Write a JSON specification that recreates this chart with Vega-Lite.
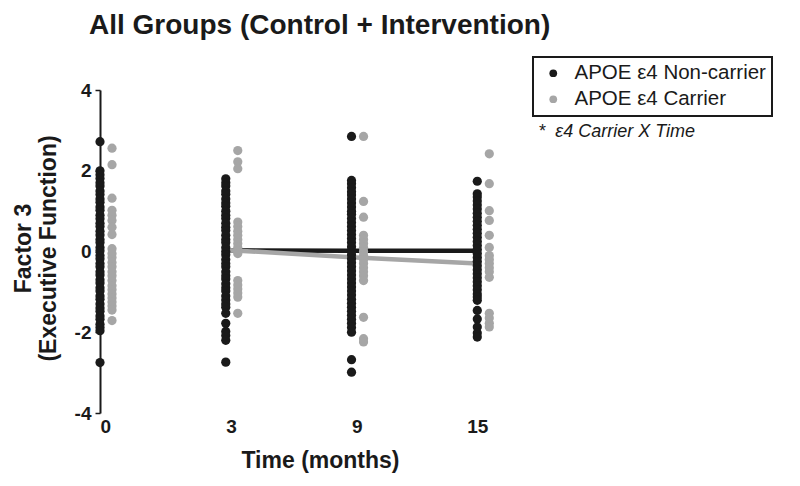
{
  "$schema": "https://vega.github.io/schema/vega-lite/v6.json",
  "width": 440,
  "height": 323,
  "autosize": {"type": "none"},
  "padding": {"left": 100, "top": 90, "right": 260, "bottom": 73},
  "background": "white",
  "title": {
    "text": "All Groups (Control + Intervention)",
    "anchor": "start",
    "frame": "group",
    "font": "Liberation Sans",
    "fontSize": 28,
    "fontWeight": "bold",
    "color": "#1a1a1a",
    "baseline": "alphabetic",
    "dx": -11,
    "dy": 6,
    "offset": 0
  },
  "config": {"view": {"stroke": null}, "font": "Liberation Sans"},
  "datasets": {
    "pts": [
      {"t":"0","g":"N","v":2.72},{"t":"0","g":"N","v":2.0},{"t":"0","g":"N","v":1.9},{"t":"0","g":"N","v":1.81},{"t":"0","g":"N","v":1.7},{"t":"0","g":"N","v":1.62},{"t":"0","g":"N","v":1.5},{"t":"0","g":"N","v":1.41},{"t":"0","g":"N","v":1.3},{"t":"0","g":"N","v":1.22},{"t":"0","g":"N","v":1.1},{"t":"0","g":"N","v":1.02},{"t":"0","g":"N","v":0.9},{"t":"0","g":"N","v":0.81},{"t":"0","g":"N","v":0.7},{"t":"0","g":"N","v":0.62},{"t":"0","g":"N","v":0.5},{"t":"0","g":"N","v":0.41},{"t":"0","g":"N","v":0.3},{"t":"0","g":"N","v":0.22},{"t":"0","g":"N","v":0.1},{"t":"0","g":"N","v":0.02},{"t":"0","g":"N","v":-0.1},{"t":"0","g":"N","v":-0.18},{"t":"0","g":"N","v":-0.3},{"t":"0","g":"N","v":-0.38},{"t":"0","g":"N","v":-0.5},{"t":"0","g":"N","v":-0.58},{"t":"0","g":"N","v":-0.7},{"t":"0","g":"N","v":-0.78},{"t":"0","g":"N","v":-0.9},{"t":"0","g":"N","v":-0.98},{"t":"0","g":"N","v":-1.1},{"t":"0","g":"N","v":-1.18},{"t":"0","g":"N","v":-1.3},{"t":"0","g":"N","v":-1.4},{"t":"0","g":"N","v":-1.48},{"t":"0","g":"N","v":-1.6},{"t":"0","g":"N","v":-1.68},{"t":"0","g":"N","v":-1.8},{"t":"0","g":"N","v":-1.88},{"t":"0","g":"N","v":-1.96},{"t":"0","g":"N","v":-2.75},
      {"t":"0","g":"C","v":2.56},{"t":"0","g":"C","v":2.15},{"t":"0","g":"C","v":1.32},{"t":"0","g":"C","v":1.02},{"t":"0","g":"C","v":0.9},{"t":"0","g":"C","v":0.77},{"t":"0","g":"C","v":0.6},{"t":"0","g":"C","v":0.42},{"t":"0","g":"C","v":0.07},{"t":"0","g":"C","v":-0.05},{"t":"0","g":"C","v":-0.15},{"t":"0","g":"C","v":-0.27},{"t":"0","g":"C","v":-0.38},{"t":"0","g":"C","v":-0.5},{"t":"0","g":"C","v":-0.6},{"t":"0","g":"C","v":-0.72},{"t":"0","g":"C","v":-0.85},{"t":"0","g":"C","v":-0.95},{"t":"0","g":"C","v":-1.05},{"t":"0","g":"C","v":-1.15},{"t":"0","g":"C","v":-1.25},{"t":"0","g":"C","v":-1.35},{"t":"0","g":"C","v":-1.45},{"t":"0","g":"C","v":-1.71},
      {"t":"3","g":"N","v":1.8},{"t":"3","g":"N","v":1.7},{"t":"3","g":"N","v":1.62},{"t":"3","g":"N","v":1.5},{"t":"3","g":"N","v":1.42},{"t":"3","g":"N","v":1.3},{"t":"3","g":"N","v":1.2},{"t":"3","g":"N","v":1.12},{"t":"3","g":"N","v":1.0},{"t":"3","g":"N","v":0.9},{"t":"3","g":"N","v":0.82},{"t":"3","g":"N","v":0.7},{"t":"3","g":"N","v":0.6},{"t":"3","g":"N","v":0.52},{"t":"3","g":"N","v":0.4},{"t":"3","g":"N","v":0.3},{"t":"3","g":"N","v":0.22},{"t":"3","g":"N","v":0.1},{"t":"3","g":"N","v":0.0},{"t":"3","g":"N","v":-0.08},{"t":"3","g":"N","v":-0.2},{"t":"3","g":"N","v":-0.3},{"t":"3","g":"N","v":-0.38},{"t":"3","g":"N","v":-0.5},{"t":"3","g":"N","v":-0.6},{"t":"3","g":"N","v":-0.68},{"t":"3","g":"N","v":-0.8},{"t":"3","g":"N","v":-0.9},{"t":"3","g":"N","v":-0.98},{"t":"3","g":"N","v":-1.1},{"t":"3","g":"N","v":-1.2},{"t":"3","g":"N","v":-1.3},{"t":"3","g":"N","v":-1.38},{"t":"3","g":"N","v":-1.53},{"t":"3","g":"N","v":-1.78},{"t":"3","g":"N","v":-1.98},{"t":"3","g":"N","v":-2.08},{"t":"3","g":"N","v":-2.2},{"t":"3","g":"N","v":-2.74},
      {"t":"3","g":"C","v":2.5},{"t":"3","g":"C","v":2.22},{"t":"3","g":"C","v":2.05},{"t":"3","g":"C","v":0.73},{"t":"3","g":"C","v":0.62},{"t":"3","g":"C","v":0.5},{"t":"3","g":"C","v":0.4},{"t":"3","g":"C","v":0.3},{"t":"3","g":"C","v":0.2},{"t":"3","g":"C","v":0.1},{"t":"3","g":"C","v":0.02},{"t":"3","g":"C","v":-0.05},{"t":"3","g":"C","v":-0.72},{"t":"3","g":"C","v":-0.83},{"t":"3","g":"C","v":-0.93},{"t":"3","g":"C","v":-1.03},{"t":"3","g":"C","v":-1.13},{"t":"3","g":"C","v":-1.53},
      {"t":"9","g":"N","v":2.85},{"t":"9","g":"N","v":1.76},{"t":"9","g":"N","v":1.68},{"t":"9","g":"N","v":1.58},{"t":"9","g":"N","v":1.48},{"t":"9","g":"N","v":1.4},{"t":"9","g":"N","v":1.3},{"t":"9","g":"N","v":1.2},{"t":"9","g":"N","v":1.1},{"t":"9","g":"N","v":1.0},{"t":"9","g":"N","v":0.92},{"t":"9","g":"N","v":0.82},{"t":"9","g":"N","v":0.72},{"t":"9","g":"N","v":0.62},{"t":"9","g":"N","v":0.52},{"t":"9","g":"N","v":0.42},{"t":"9","g":"N","v":0.32},{"t":"9","g":"N","v":0.22},{"t":"9","g":"N","v":0.12},{"t":"9","g":"N","v":0.02},{"t":"9","g":"N","v":-0.08},{"t":"9","g":"N","v":-0.18},{"t":"9","g":"N","v":-0.28},{"t":"9","g":"N","v":-0.38},{"t":"9","g":"N","v":-0.48},{"t":"9","g":"N","v":-0.58},{"t":"9","g":"N","v":-0.68},{"t":"9","g":"N","v":-0.78},{"t":"9","g":"N","v":-0.88},{"t":"9","g":"N","v":-0.98},{"t":"9","g":"N","v":-1.08},{"t":"9","g":"N","v":-1.18},{"t":"9","g":"N","v":-1.28},{"t":"9","g":"N","v":-1.38},{"t":"9","g":"N","v":-1.48},{"t":"9","g":"N","v":-1.58},{"t":"9","g":"N","v":-1.68},{"t":"9","g":"N","v":-1.78},{"t":"9","g":"N","v":-1.88},{"t":"9","g":"N","v":-2.0},{"t":"9","g":"N","v":-2.68},{"t":"9","g":"N","v":-2.99},
      {"t":"9","g":"C","v":2.85},{"t":"9","g":"C","v":1.24},{"t":"9","g":"C","v":0.85},{"t":"9","g":"C","v":0.4},{"t":"9","g":"C","v":0.3},{"t":"9","g":"C","v":0.2},{"t":"9","g":"C","v":0.1},{"t":"9","g":"C","v":0.0},{"t":"9","g":"C","v":-0.1},{"t":"9","g":"C","v":-0.2},{"t":"9","g":"C","v":-0.3},{"t":"9","g":"C","v":-0.4},{"t":"9","g":"C","v":-0.5},{"t":"9","g":"C","v":-0.6},{"t":"9","g":"C","v":-0.72},{"t":"9","g":"C","v":-1.63},{"t":"9","g":"C","v":-2.16},{"t":"9","g":"C","v":-2.24},
      {"t":"15","g":"N","v":1.74},{"t":"15","g":"N","v":1.43},{"t":"15","g":"N","v":1.35},{"t":"15","g":"N","v":1.25},{"t":"15","g":"N","v":1.15},{"t":"15","g":"N","v":1.05},{"t":"15","g":"N","v":0.95},{"t":"15","g":"N","v":0.85},{"t":"15","g":"N","v":0.75},{"t":"15","g":"N","v":0.65},{"t":"15","g":"N","v":0.55},{"t":"15","g":"N","v":0.45},{"t":"15","g":"N","v":0.35},{"t":"15","g":"N","v":0.25},{"t":"15","g":"N","v":0.15},{"t":"15","g":"N","v":0.05},{"t":"15","g":"N","v":-0.05},{"t":"15","g":"N","v":-0.15},{"t":"15","g":"N","v":-0.25},{"t":"15","g":"N","v":-0.35},{"t":"15","g":"N","v":-0.45},{"t":"15","g":"N","v":-0.55},{"t":"15","g":"N","v":-0.65},{"t":"15","g":"N","v":-0.75},{"t":"15","g":"N","v":-0.85},{"t":"15","g":"N","v":-0.95},{"t":"15","g":"N","v":-1.05},{"t":"15","g":"N","v":-1.13},{"t":"15","g":"N","v":-1.21},{"t":"15","g":"N","v":-1.46},{"t":"15","g":"N","v":-1.67},{"t":"15","g":"N","v":-1.87},{"t":"15","g":"N","v":-2.02},{"t":"15","g":"N","v":-2.12},
      {"t":"15","g":"C","v":2.42},{"t":"15","g":"C","v":1.68},{"t":"15","g":"C","v":1.01},{"t":"15","g":"C","v":0.77},{"t":"15","g":"C","v":0.4},{"t":"15","g":"C","v":0.1},{"t":"15","g":"C","v":-0.1},{"t":"15","g":"C","v":-0.2},{"t":"15","g":"C","v":-0.3},{"t":"15","g":"C","v":-0.4},{"t":"15","g":"C","v":-0.5},{"t":"15","g":"C","v":-0.64},{"t":"15","g":"C","v":-1.53},{"t":"15","g":"C","v":-1.65},{"t":"15","g":"C","v":-1.78},{"t":"15","g":"C","v":-1.87}
    ],
    "trend": [
      {"t":"3","g":"N","v":0.03},{"t":"9","g":"N","v":0.02},{"t":"15","g":"N","v":0.02},
      {"t":"3","g":"C","v":0.04},{"t":"9","g":"C","v":-0.14},{"t":"15","g":"C","v":-0.3}
    ],
    "note": [{"label": "* \u00a0ε4 Carrier X Time"}]
  },
  "layer": [
    {
      "mark": {"type": "rule", "color": "#8a8a8a", "strokeWidth": 1.5},
      "encoding": {"y": {"datum": 0, "type": "quantitative"}}
    },
    {
      "data": {"name": "trend"},
      "mark": {"type": "line", "strokeWidth": 4.5},
      "encoding": {
        "x": {"field": "t", "type": "nominal"},
        "xOffset": {"datum": "N"},
        "y": {"field": "v", "type": "quantitative"},
        "color": {"field": "g", "type": "nominal"}
      }
    },
    {
      "data": {"name": "pts"},
      "mark": {"type": "circle", "size": 85, "opacity": 1},
      "encoding": {
        "x": {
          "field": "t", "type": "nominal",
          "scale": {"type": "band", "domain": ["0", "3", "9", "15"], "range": [-6, 395.3], "paddingInner": 0.809, "paddingOuter": 0, "round": false},
          "axis": {
            "title": "Time (months)", "domain": false, "ticks": false, "grid": false,
            "labelAngle": 0, "labelFont": "Liberation Sans", "labelFontSize": 19, "labelFontWeight": "bold", "labelColor": "#1a1a1a", "labelPadding": 13, "labelOffset": 5,
            "titleFont": "Liberation Sans", "titleFontSize": 23, "titleFontWeight": "bold", "titleColor": "#1a1a1a",
            "titleX": 220, "titleY": 54, "titleBaseline": "alphabetic", "titleAlign": "center"
          }
        },
        "xOffset": {"field": "g", "type": "nominal", "scale": {"type": "band", "domain": ["N", "C"], "paddingInner": 0, "paddingOuter": 0}},
        "y": {
          "field": "v", "type": "quantitative",
          "scale": {"domain": [-4, 4], "nice": false, "zero": false},
          "axis": {
            "title": ["Factor 3", "(Executive Function)"], "values": [-4, -2, 0, 2, 4], "grid": false,
            "labelExpr": "'' + datum.value",
            "domain": true, "domainColor": "#1a1a1a", "domainWidth": 2,
            "ticks": true, "tickColor": "#1a1a1a", "tickSize": 5, "tickWidth": 1.5,
            "labelFont": "Liberation Sans", "labelFontSize": 19, "labelFontWeight": "bold", "labelColor": "#1a1a1a", "labelPadding": 4,
            "titleFont": "Liberation Sans", "titleFontSize": 23, "titleFontWeight": "bold", "titleColor": "#1a1a1a",
            "titleAngle": -90, "titleX": -70, "titleY": 158, "titleAlign": "center", "titleBaseline": "alphabetic", "titleLineHeight": 25
          }
        },
        "color": {
          "field": "g", "type": "nominal",
          "scale": {"domain": ["N", "C"], "range": ["#1a1a1a", "#a6a6a6"]},
          "legend": {
            "title": null, "orient": "none", "legendX": 433, "legendY": -33,
            "labelExpr": "datum.value == 'N' ? 'APOE ε4 Non-carrier' : 'APOE ε4 Carrier'",
            "labelFont": "Liberation Sans", "labelFontSize": 20.5, "labelColor": "#1a1a1a", "labelOffset": 11, "labelLimit": 400,
            "symbolType": "circle", "symbolSize": 60, "symbolOffset": 4, "symbolStrokeWidth": 0, "symbolOpacity": 1,
            "rowPadding": 5, "padding": 6, "strokeColor": "#1a1a1a",
            "encode": {"legend": {"update": {"strokeWidth": {"value": 2}, "width": {"value": 254}}}}
          }
        }
      }
    },
    {
      "data": {"name": "note"},
      "mark": {"type": "text", "align": "left", "baseline": "middle", "font": "Liberation Sans", "fontSize": 18, "fontStyle": "italic", "color": "#1a1a1a", "dx": 55},
      "encoding": {
        "x": {"datum": "15", "type": "nominal"},
        "y": {"datum": 2.95, "type": "quantitative"},
        "text": {"field": "label", "type": "nominal"}
      }
    }
  ]
}
